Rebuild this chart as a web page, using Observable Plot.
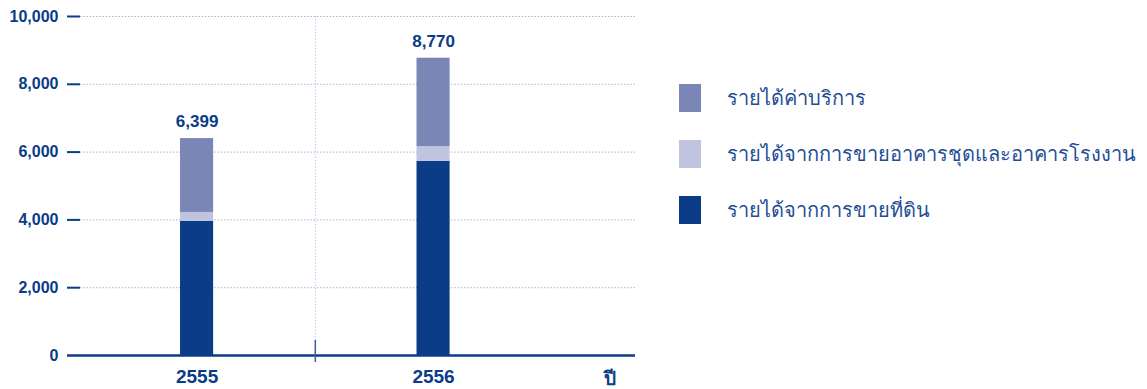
<!DOCTYPE html>
<html>
<head>
<meta charset="utf-8">
<script src="https://cdn.jsdelivr.net/npm/d3@7"></script>
<script src="https://cdn.jsdelivr.net/npm/@observablehq/plot@0.6"></script>
<style>
  html, body { margin: 0; padding: 0; background: #fff; }
  #wrap { position: relative; width: 1147px; height: 389px; font-family: "Liberation Sans", Arial, sans-serif; }
  #legend { position: absolute; left: 679px; top: 84px; display: flex; flex-direction: column; gap: 28px; }
  .row { display: flex; align-items: center; height: 28px; }
  .sw { width: 22px; height: 28px; margin-right: 26px; flex: none; }
  .lbl { font-family: "DejaVu Sans", "Noto Sans", sans-serif; font-size: 20px; color: #1f4e96; white-space: nowrap; }
</style>
</head>
<body>
<div id="wrap"></div>
<script>
// ---- data ----
const years = [2555, 2556];
const seriesNames = ["รายได้จากการขายที่ดิน", "รายได้จากการขายอาคารชุดและอาคารโรงงาน", "รายได้ค่าบริการ"];
const landSales = [3960, 5730];
const condoFactorySales = [260, 430];
const serviceIncome = [2179, 2610];
const totals = [6399, 8770];
const yTicks = [0, 2000, 4000, 6000, 8000, 10000];
const legendOrder = ["รายได้ค่าบริการ", "รายได้จากการขายอาคารชุดและอาคารโรงงาน", "รายได้จากการขายที่ดิน"];
const colors = ["#0a3c87", "#c0c4df", "#7a86b6"];
const xAxisTitle = "ปี";

const seriesValues = [landSales, condoFactorySales, serviceIncome];
const table = [];
years.forEach((yr, i) => seriesNames.forEach((s, k) => table.push({year: yr, type: s, value: seriesValues[k][i]})));
const totalRows = years.map((yr, i) => ({year: yr, total: totals[i]}));

const dark = "#0a3c87";
const halfBar = 0.07;

const chart = Plot.plot({
  width: 1147,
  height: 389,
  marginLeft: 67,
  marginRight: 512,
  marginTop: 16,
  marginBottom: 34,
  style: {fontFamily: "Liberation Sans, Arial, sans-serif", color: dark, background: "transparent"},
  x: {type: "linear", domain: [2554.452, 2556.854], axis: null},
  y: {domain: [0, 10000], axis: null},
  color: {domain: seriesNames, range: colors},
  marks: [
    // dotted gridlines
    Plot.ruleY(yTicks.filter(d => d > 0), {stroke: "#9aa3cf", strokeWidth: 1, strokeDasharray: "1.2,2", insetLeft: 13}),
    // dotted vertical divider
    Plot.ruleX([2555.5], {stroke: "#b9bfdf", strokeWidth: 1, strokeDasharray: "1.2,2"}),
    // stacked bars
    Plot.rectY(table, Plot.stackY({x1: d => d.year - halfBar, x2: d => d.year + halfBar, y: "value", fill: "type"})),
    // total labels
    Plot.text(totalRows, {x: "year", y: "total", text: d => d3.format(",")(d.total), dy: -17, fontSize: 17, fontWeight: "bold", fill: dark}),
    // y tick marks
    Plot.ruleY(yTicks.filter(d => d > 0), {stroke: dark, strokeWidth: 2, insetRight: 555}),
    // baseline
    Plot.ruleY([0], {stroke: dark, strokeWidth: 2.5}),
    // divider tick through baseline
    Plot.ruleX([2555.5], {y1: 0, y2: 0, insetTop: -15, insetBottom: -7, stroke: "#3d5f9c", strokeWidth: 1.5}),
    // y labels
    Plot.axisY(yTicks, {anchor: "left", label: null, tickSize: 0, tickPadding: 9, tickFormat: d3.format(","), fontSize: 16, fontWeight: "bold", fill: dark}),
    // x labels
    Plot.axisX(years, {anchor: "bottom", label: null, tickSize: 0, tickPadding: 14, tickFormat: d => String(d), fontSize: 19, fontWeight: "bold", fill: dark}),
    Plot.text([xAxisTitle], {frameAnchor: "bottom-right", dx: -20, dy: 29, fontSize: 19, fontWeight: "bold", fill: dark, fontFamily: "DejaVu Sans, sans-serif"})
  ]
});

const wrap = document.getElementById("wrap");
wrap.appendChild(chart);

const legend = document.createElement("div");
legend.id = "legend";
legendOrder.forEach(name => {
  const row = document.createElement("div");
  row.className = "row";
  const sw = document.createElement("div");
  sw.className = "sw";
  sw.style.background = colors[seriesNames.indexOf(name)];
  const lbl = document.createElement("span");
  lbl.className = "lbl";
  lbl.textContent = name;
  row.appendChild(sw);
  row.appendChild(lbl);
  legend.appendChild(row);
});
wrap.appendChild(legend);
</script>
</body>
</html>
